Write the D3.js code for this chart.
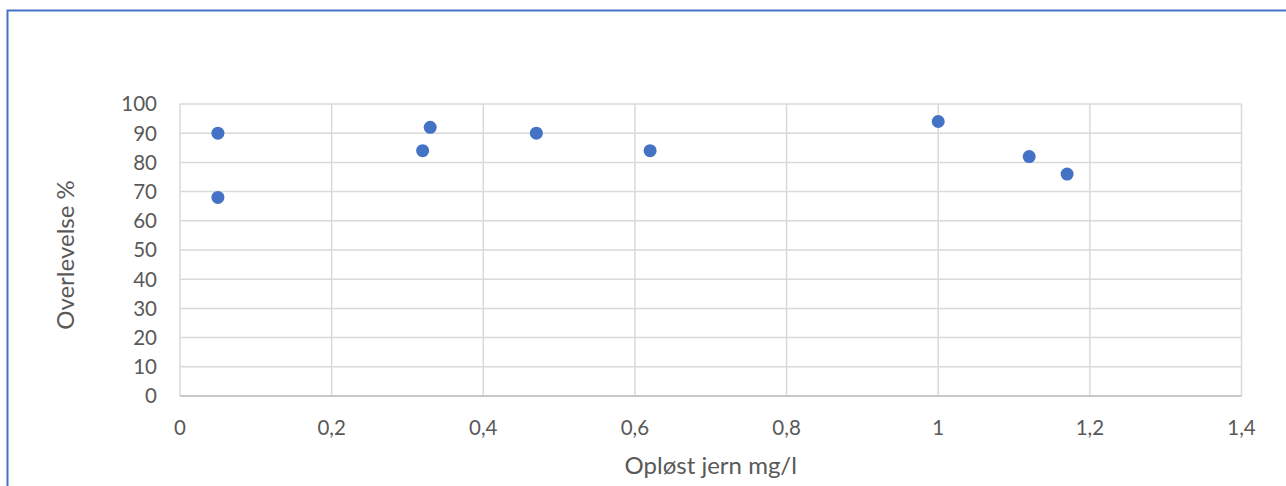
<!DOCTYPE html>
<html>
<head>
<meta charset="utf-8">
<script src="https://cdn.jsdelivr.net/npm/d3@7"></script>
<style>
  html, body { margin: 0; padding: 0; background: #fff; }
  svg { display: block; }
  text { font-family: Lato, "Open Sans", sans-serif; fill: #595959; }
</style>
</head>
<body>
<svg id="chart" width="1286" height="486"></svg>
<script>
// Data
const ironValues = [0.05, 0.05, 0.32, 0.33, 0.47, 0.62, 1.0, 1.12, 1.17];
const survivalValues = [90, 68, 84, 92, 90, 84, 94, 82, 76];
const xTicks = [0, 0.2, 0.4, 0.6, 0.8, 1.0, 1.2, 1.4];
const yTicks = [0, 10, 20, 30, 40, 50, 60, 70, 80, 90, 100];
const xTitle = "Opløst jern mg/l";
const yTitle = "Overlevelse %";

const svg = d3.select("#chart");
const plot = { left: 180, right: 1241.5, top: 104, bottom: 396 };

// outer frame (cropped on right/bottom)
svg.append("rect")
  .attr("x", 7.5).attr("y", 10.5)
  .attr("width", 1400).attr("height", 600)
  .attr("fill", "none").attr("stroke", "#4472C4").attr("stroke-width", 2);

const x = d3.scaleLinear().domain([0, 1.4]).range([plot.left, plot.right]);
const y = d3.scaleLinear().domain([0, 100]).range([plot.bottom, plot.top]);

const fmt = d => d3.format("~g")(d).replace(".", ",");

// horizontal gridlines
svg.append("g").selectAll("line").data(yTicks).join("line")
  .attr("x1", plot.left).attr("x2", plot.right)
  .attr("y1", d => y(d)).attr("y2", d => y(d))
  .attr("stroke", "#D9D9D9").attr("stroke-width", 1.5);

// vertical gridlines
svg.append("g").selectAll("line").data(xTicks).join("line")
  .attr("x1", d => x(d)).attr("x2", d => x(d))
  .attr("y1", plot.top).attr("y2", plot.bottom)
  .attr("stroke", "#D9D9D9").attr("stroke-width", 1.5);

// bottom axis line
svg.append("line")
  .attr("x1", plot.left).attr("x2", plot.right)
  .attr("y1", y(0)).attr("y2", y(0))
  .attr("stroke", "#BFBFBF").attr("stroke-width", 1.5);

// y tick labels
svg.append("g").selectAll("text").data(yTicks).join("text")
  .attr("x", 157).attr("y", d => y(d))
  .attr("dy", "0.36em")
  .attr("text-anchor", "end")
  .attr("font-size", 20.5)
  .text(d => fmt(d));

// x tick labels
svg.append("g").selectAll("text").data(xTicks).join("text")
  .attr("x", d => x(d)).attr("y", 428)
  .attr("dy", "0.36em")
  .attr("text-anchor", "middle")
  .attr("font-size", 20.5)
  .text(d => fmt(d));

// axis titles
svg.append("text")
  .attr("x", (plot.left + plot.right) / 2).attr("y", 466)
  .attr("dy", "0.35em")
  .attr("text-anchor", "middle")
  .attr("font-size", 24)
  .text(xTitle);

svg.append("text")
  .attr("transform", "translate(66,255) rotate(-90)")
  .attr("dy", "0.35em")
  .attr("text-anchor", "middle")
  .attr("font-size", 24)
  .text(yTitle);

// points
svg.append("g").selectAll("circle").data(ironValues.map((v, i) => [v, survivalValues[i]])).join("circle")
  .attr("cx", d => x(d[0])).attr("cy", d => y(d[1]))
  .attr("r", 6.5)
  .attr("fill", "#4472C4");
</script>
</body>
</html>
